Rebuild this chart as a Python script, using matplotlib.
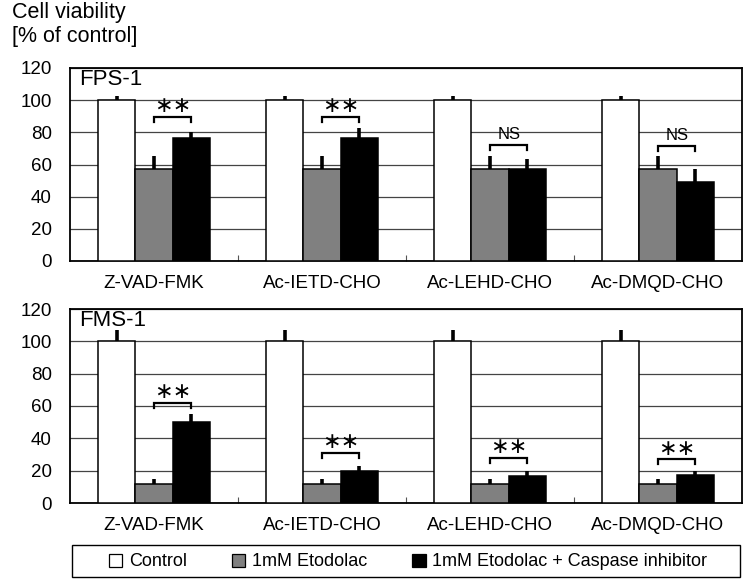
import matplotlib
matplotlib.use("Agg")
import matplotlib.pyplot as plt
import numpy as np
from matplotlib.patches import Patch, Rectangle

plt.rcParams['font.family'] = ['Liberation Sans', 'DejaVu Sans']

categories = ['Z-VAD-FMK', 'Ac-IETD-CHO', 'Ac-LEHD-CHO', 'Ac-DMQD-CHO']
series_names = ['Control', '1mM Etodolac', '1mM Etodolac + Caspase inhibitor']

# FPS-1 panel
fps_control = [100, 100, 100, 100]
fps_control_err = [2.5, 2.5, 2.5, 2.5]
fps_etodolac = [57.5, 57.5, 57.5, 57.5]
fps_etodolac_err = [8, 8, 8, 8]
fps_inhibitor = [76.5, 76.5, 57.5, 49]
fps_inhibitor_err = [4, 6.5, 6, 8.5]
fps_sig = ['**', '**', 'NS', 'NS']
fps_bracket = [89.5, 89.5, 72, 71.5]

# FMS-1 panel
fms_control = [100, 100, 100, 100]
fms_control_err = [7, 7, 7, 7]
fms_etodolac = [12, 12, 12, 12]
fms_etodolac_err = [2.6, 2.6, 2.6, 2.6]
fms_inhibitor = [50, 19.5, 17, 17.5]
fms_inhibitor_err = [5, 3.5, 2.5, 2]
fms_sig = ['**', '**', '**', '**']
fms_bracket = [62, 31, 28, 27]

colors = ['white', '#808080', 'black']


def draw_panel(ax, name, vals, errs, sig, bracket):
    x = np.arange(len(categories))
    w = 1 / 4.5
    for k, (v, e) in enumerate(zip(vals, errs)):
        pos = x + (k - 1) * w
        ax.bar(pos, v, width=w, color=colors[k], edgecolor='black',
               linewidth=1.1, zorder=3)
        ax.errorbar(pos, v, yerr=[np.zeros(len(e)), e], fmt='none',
                    ecolor='black', elinewidth=2.6, capsize=0, zorder=4)

    for i in range(len(categories)):
        x0, x1 = x[i], x[i] + w
        y = bracket[i]
        ax.plot([x0, x0, x1, x1], [y - 3, y, y, y - 3], color='black',
                lw=1.6, zorder=5, solid_joinstyle='miter')
        if sig[i] == 'NS':
            ax.text((x0 + x1) / 2, y + 2, 'NS', ha='center', va='bottom',
                    fontsize=12)
        else:
            ax.text((x0 + x1) / 2, y + 0.5, '\u2217\u2217', ha='center',
                    va='bottom', fontsize=16, family='DejaVu Sans')

    ax.set_xlim(-0.5, len(categories) - 0.5)
    ax.set_ylim(0, 120)
    ax.set_yticks(range(0, 121, 20))
    ax.yaxis.grid(True, color='#444444', lw=0.9, zorder=0)
    ax.set_axisbelow(True)
    ax.set_xticks(x)
    ax.set_xticklabels(categories)
    ax.set_xticks(x[:-1] + 0.5, minor=True)
    ax.tick_params(axis='x', which='major', length=0, pad=10, labelsize=13.5)
    ax.tick_params(axis='x', which='minor', direction='in', length=4,
                   width=0.8, color='#555555')
    ax.tick_params(axis='y', length=0, pad=13, labelsize=13.5)
    for s in ax.spines.values():
        s.set_linewidth(1.3)
    ax.text(0.013, 0.995, name, transform=ax.transAxes, ha='left', va='top',
            fontsize=16)


fig = plt.figure(figsize=(7.47, 5.83), dpi=100)
ax1 = fig.add_axes([70 / 747, 1 - 261 / 583, 672 / 747, 193 / 583])
ax2 = fig.add_axes([70 / 747, 1 - 503 / 583, 672 / 747, 194 / 583])

draw_panel(ax1, 'FPS-1', [fps_control, fps_etodolac, fps_inhibitor],
           [fps_control_err, fps_etodolac_err, fps_inhibitor_err],
           fps_sig, fps_bracket)
draw_panel(ax2, 'FMS-1', [fms_control, fms_etodolac, fms_inhibitor],
           [fms_control_err, fms_etodolac_err, fms_inhibitor_err],
           fms_sig, fms_bracket)

fig.text(12 / 747, 1 - 2 / 583, 'Cell viability\n[% of control]',
         ha='left', va='top', fontsize=15.5, linespacing=1.2)

# legend frame drawn on its own, entries centred inside it
fig.patches.append(Rectangle((72 / 747, 1 - 577 / 583), 668 / 747, 32 / 583,
                             transform=fig.transFigure, facecolor='white',
                             edgecolor='black', linewidth=1.0, zorder=0))
handles = [Patch(facecolor=c, edgecolor='black', linewidth=0.9) for c in colors]
leg = fig.legend(handles, series_names, ncol=3, loc='center',
                 bbox_to_anchor=(408 / 747, 1 - 562 / 583),
                 fontsize=13, handlelength=0.75, handleheight=0.75,
                 handletextpad=0.35, columnspacing=2.5, frameon=False)

fig.savefig('out.png', dpi=100)
